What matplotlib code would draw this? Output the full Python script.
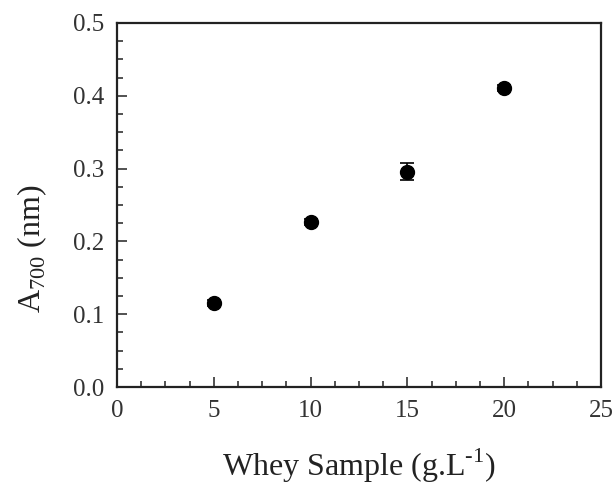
import matplotlib
matplotlib.use("Agg")
import matplotlib.pyplot as plt
from matplotlib.ticker import MultipleLocator

# data
whey = [5, 10, 15, 20]
a700 = [0.115, 0.227, 0.296, 0.411]
a700_err = [0.004, 0.004, 0.012, 0.004]

plt.rcParams["font.family"] = ["Liberation Serif", "DejaVu Serif"]
plt.rcParams["mathtext.fontset"] = "custom"
plt.rcParams["mathtext.rm"] = "Liberation Serif"

fig = plt.figure(figsize=(6.14, 4.91), dpi=100)
ax = fig.add_axes([0.1906, 0.2118, 0.7882, 0.7414])

ax.errorbar(whey, a700, yerr=a700_err, fmt="o", color="black", ms=10,
            capsize=5, elinewidth=1.2, capthick=1.2)

ax.set_xlim(0, 25)
ax.set_ylim(0, 0.5)
ax.xaxis.set_major_locator(MultipleLocator(5))
ax.xaxis.set_minor_locator(MultipleLocator(1.25))
ax.yaxis.set_minor_locator(MultipleLocator(0.025))
ax.set_yticks([0.0, 0.1, 0.2, 0.3, 0.4, 0.5])
ax.set_yticklabels(["0.0", "0.1", "0.2", "0.3", "0.4", "0.5"])

ax.tick_params(which="both", direction="in", width=1.2, labelsize=18, colors="#333333",
               labelcolor="#333333")
ax.tick_params(which="major", length=7, pad=9)
ax.tick_params(which="minor", length=4)
for s in ax.spines.values():
    s.set_linewidth(1.6)
    s.set_color("#222222")

ax.set_xlabel("Whey Sample (g.L$^{\\mathrm{\\text{-}1}}$)", fontsize=23, color="#222222",
              labelpad=18)
ax.set_ylabel("A$_{\\mathrm{700}}$ (nm)", fontsize=23, color="#222222")
ax.yaxis.set_label_coords(-0.14, 0.38)

fig.savefig("out.png", dpi=100)
